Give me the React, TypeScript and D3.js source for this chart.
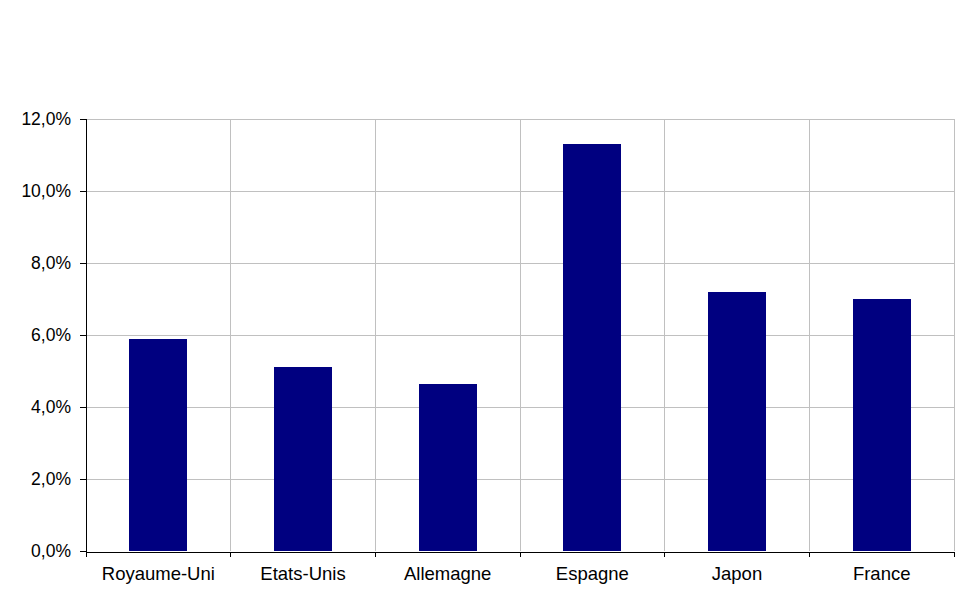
import React from "react";
import * as d3 from "d3";

const categories = ["Royaume-Uni", "Etats-Unis", "Allemagne", "Espagne", "Japon", "France"];
const values = [5.9, 5.1, 4.65, 11.3, 7.2, 7.0];
const yTicks = [0, 2, 4, 6, 8, 10, 12];

export default function App() {
  const W = 970, H = 605;
  const left = 86, right = 954, top = 119, bottom = 551;
  const x = d3.scaleBand<string>().domain(categories).range([left, right]).paddingInner(0).paddingOuter(0);
  const y = d3.scaleLinear().domain([0, 12]).range([bottom, top]);
  const bw = x.bandwidth() * 0.4;
  const fmt = (v: number) => v.toFixed(1).replace(".", ",") + "%";
  const font = "'Liberation Sans', Arial, sans-serif";
  return (
    <svg width={W} height={H} style={{ position: "absolute", left: 0, top: 0, background: "#fff" }} fontFamily={font}>
      <rect x={0} y={0} width={W} height={H} fill="#fff" />
      {yTicks.filter(t => t > 0).map(t => (
        <line key={"g" + t} x1={left} x2={right} y1={y(t)} y2={y(t)} stroke="#c0c0c0" strokeWidth={1} shapeRendering="crispEdges" />
      ))}
      {categories.map((c, i) => (
        <line key={"v" + i} x1={(x(c) as number) + x.bandwidth()} x2={(x(c) as number) + x.bandwidth()} y1={top} y2={bottom} stroke="#c0c0c0" strokeWidth={1} shapeRendering="crispEdges" />
      ))}
      {categories.map((c, i) => (
        <rect key={"b" + i} x={(x(c) as number) + (x.bandwidth() - bw) / 2} y={y(values[i])} width={bw} height={bottom - y(values[i])} fill="#000080" shapeRendering="crispEdges" />
      ))}
      <line x1={left} x2={left} y1={top} y2={bottom + 1} stroke="#000" shapeRendering="crispEdges" />
      <line x1={left} x2={right} y1={bottom + 1} y2={bottom + 1} stroke="#000" shapeRendering="crispEdges" />
      {yTicks.map(t => (
        <g key={"yt" + t}>
          <line x1={left - 6} x2={left} y1={y(t)} y2={y(t)} stroke="#000" shapeRendering="crispEdges" />
          <text x={71} y={y(t)} dy="0.35em" textAnchor="end" fontSize={17.5} fill="#000">{fmt(t)}</text>
        </g>
      ))}
      {[left, ...categories.map(c => (x(c) as number) + x.bandwidth())].map((xv, i) => (
        <line key={"xt" + i} x1={xv} x2={xv} y1={bottom + 1} y2={bottom + 6} stroke="#000" shapeRendering="crispEdges" />
      ))}
      {categories.map((c, i) => (
        <text key={"xl" + i} x={(x(c) as number) + x.bandwidth() / 2} y={580} textAnchor="middle" fontSize={18.5} fill="#000">{c}</text>
      ))}
    </svg>
  );
}
